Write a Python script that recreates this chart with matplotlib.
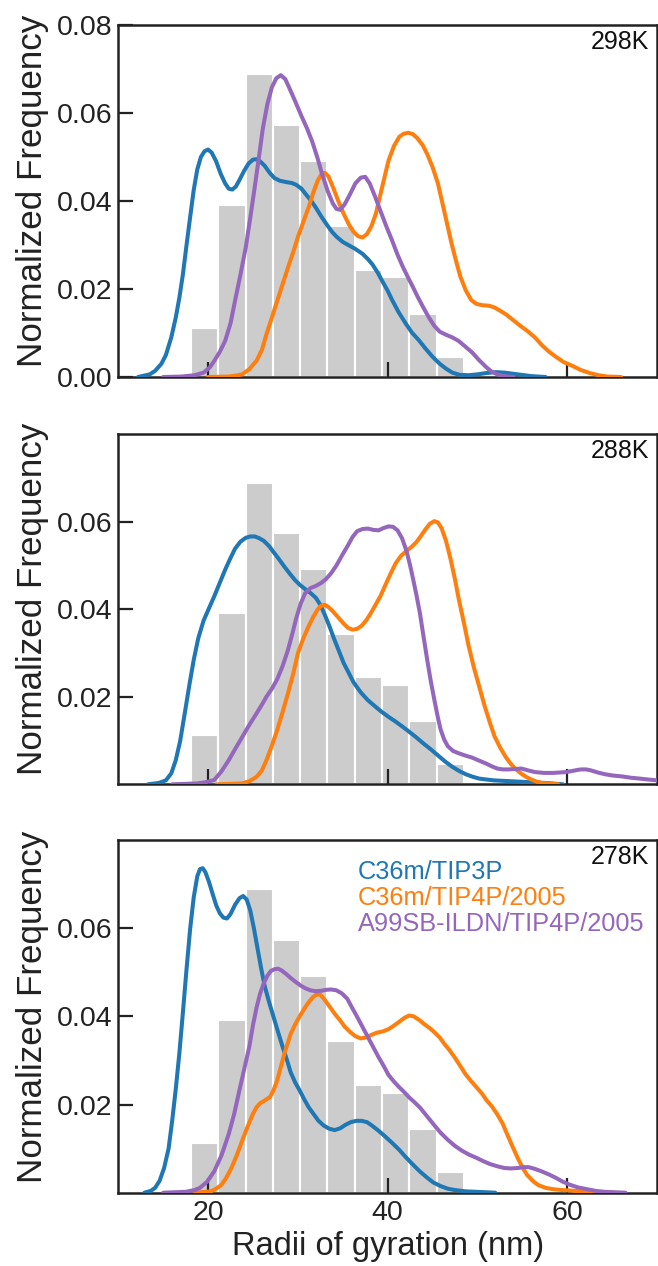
import numpy as np
import matplotlib
matplotlib.use("Agg")
import matplotlib.pyplot as plt

plt.rcParams['font.family'] = ['Liberation Sans', 'DejaVu Sans']

# ---------------------------------------------------------------------------
# Reference histogram of radii of gyration (same in every panel)
bin_edges = np.linspace(18.1, 48.5, 11)
bin_heights = [0.0112, 0.0392, 0.0689, 0.0573, 0.0491,
               0.0343, 0.0244, 0.0227, 0.0144, 0.0046]

temperatures = ["298K", "288K", "278K"]
series_names = ["C36m/TIP3P", "C36m/TIP4P/2005", "A99SB-ILDN/TIP4P/2005"]
series_colors = ["#1f77b4", "#ff7f0e", "#9467bd"]

x_ticks = [20, 40, 60]
x_tick_labels = ["20", "40", "60"]
y_ticks_top = [0.00, 0.02, 0.04, 0.06, 0.08]
y_tick_labels_top = ["0.00", "0.02", "0.04", "0.06", "0.08"]
y_ticks_lower = [0.02, 0.04, 0.06]
y_tick_labels_lower = ["0.02", "0.04", "0.06"]

# ---------------------------------------------------------------------------
# 298 K density curves
tip3p_298_x = [12.2, 13.5, 14.1, 14.8, 15.3, 15.9, 16.4, 16.8, 17.2, 17.6, 18.0,
               18.4, 18.8, 19.2, 19.6, 20.0, 20.4, 20.9, 21.4, 21.9, 22.3, 22.7,
               23.1, 23.5, 24.0, 24.5, 25.0, 25.4, 25.8, 26.3, 26.9, 27.4, 28.0,
               28.7, 29.3, 29.8, 30.4, 30.9, 31.5, 32.0, 32.6, 33.2, 33.8, 34.3,
               35.0, 35.7, 36.4, 37.2, 37.8, 38.3, 38.9, 39.4, 40.0, 40.5, 41.2,
               42.0, 42.7, 43.5, 44.2, 45.0, 45.8, 46.5, 47.2, 48.0, 49.0, 50.0,
               51.0, 52.0, 53.0, 54.5, 56.0, 57.6]
tip3p_298_y = [0, 0.0006, 0.0014, 0.0030, 0.0050, 0.0090, 0.0135, 0.0180, 0.0234,
               0.0300, 0.0363, 0.0425, 0.0472, 0.0500, 0.0513, 0.0517, 0.0510,
               0.0490, 0.0462, 0.0440, 0.0428, 0.0426, 0.0433, 0.0448, 0.0468,
               0.0485, 0.0494, 0.0495, 0.0490, 0.0480, 0.0463, 0.0452, 0.0446,
               0.0443, 0.0441, 0.0437, 0.0428, 0.0415, 0.0400, 0.0385, 0.0365,
               0.0347, 0.0330, 0.0319, 0.0307, 0.0299, 0.0291, 0.0280, 0.0268,
               0.0256, 0.0237, 0.0218, 0.0196, 0.0175, 0.0148, 0.0122, 0.0101,
               0.0083, 0.0065, 0.0046, 0.0030, 0.0019, 0.0010, 0.0005, 0.0004,
               0.0006, 0.0009, 0.0011, 0.0010, 0.0006, 0.0002, 0]

tip4p_298_x = [20.0, 22.3, 23.3, 23.8, 24.6, 25.4, 26.0, 26.5, 27.1, 27.7, 28.3,
               28.9, 29.5, 30.0, 30.6, 31.2, 31.7, 32.2, 32.6, 33.0, 33.4, 33.9,
               34.5, 35.1, 35.7, 36.2, 36.7, 37.2, 37.7, 38.2, 38.7, 39.1, 39.6,
               40.1, 40.7, 41.3, 41.8, 42.3, 42.8, 43.3, 43.9, 44.4, 45.0, 45.6,
               46.1, 46.6, 47.1, 47.6, 48.1, 48.7, 49.3, 49.9, 50.6, 51.3, 51.9,
               52.5, 53.2, 54.0, 54.8, 55.6, 56.4, 57.2, 58.0, 58.8, 59.6, 60.5,
               61.5, 62.5, 63.5, 64.5, 66.0]
tip4p_298_y = [0, 0.0001, 0.0004, 0.0006, 0.0018, 0.0037, 0.0062, 0.0097, 0.0135,
               0.0173, 0.0211, 0.0249, 0.0285, 0.0318, 0.0352, 0.0386, 0.0418,
               0.0446, 0.0460, 0.0464, 0.0456, 0.0432, 0.0400, 0.0371, 0.0346,
               0.0330, 0.0320, 0.0317, 0.0325, 0.0343, 0.0372, 0.0407, 0.0450,
               0.0492, 0.0525, 0.0546, 0.0553, 0.0555, 0.0552, 0.0543, 0.0527,
               0.0507, 0.0477, 0.0440, 0.0395, 0.0350, 0.0305, 0.0265, 0.0228,
               0.0197, 0.0175, 0.0166, 0.0163, 0.0162, 0.0158, 0.0151, 0.0142,
               0.0129, 0.0116, 0.0104, 0.0090, 0.0072, 0.0057, 0.0045, 0.0034,
               0.0026, 0.0016, 0.0009, 0.0004, 0.0001, 0]

ildn_298_x = [15.0, 17.0, 18.5, 19.5, 20.2, 20.7, 21.3, 21.9, 22.5, 23.0, 23.6,
              24.2, 24.7, 25.2, 25.7, 26.1, 26.6, 27.1, 27.6, 28.1, 28.6, 29.2,
              29.8, 30.4, 31.0, 31.6, 32.2, 32.7, 33.3, 33.9, 34.3, 34.7, 35.2,
              35.8, 36.4, 37.0, 37.5, 38.0, 38.6, 39.3, 39.9, 40.5, 41.1, 41.7,
              42.3, 42.8, 43.4, 44.0, 44.6, 45.2, 45.8, 46.5, 47.2, 47.9, 48.6,
              49.4, 50.2, 51.0, 51.6, 52.2, 53.0, 54.0]
ildn_298_y = [0, 0.0001, 0.0004, 0.0010, 0.0022, 0.0037, 0.0057, 0.0082, 0.0122,
              0.0173, 0.0232, 0.0295, 0.0362, 0.0432, 0.0505, 0.0565, 0.0620,
              0.0658, 0.0679, 0.0686, 0.0677, 0.0650, 0.0622, 0.0593, 0.0566,
              0.0535, 0.0497, 0.0461, 0.0424, 0.0394, 0.0382, 0.0380, 0.0392,
              0.0415, 0.0440, 0.0453, 0.0455, 0.0440, 0.0410, 0.0372, 0.0340,
              0.0310, 0.0278, 0.0250, 0.0225, 0.0205, 0.0180, 0.0157, 0.0135,
              0.0116, 0.0103, 0.0096, 0.0090, 0.0082, 0.0070, 0.0056, 0.0038,
              0.0022, 0.0012, 0.0006, 0.0002, 0]

# 288 K density curves
tip3p_288_x = [13.3, 14.5, 15.3, 15.9, 16.4, 16.9, 17.4, 17.9, 18.4, 18.9, 19.5,
               20.1, 20.7, 21.3, 21.9, 22.5, 23.0, 23.6, 24.2, 24.7, 25.2, 25.7,
               26.2, 26.8, 27.3, 27.9, 28.5, 29.1, 29.7, 30.3, 30.8, 31.4, 32.0,
               32.5, 33.0, 33.5, 34.0, 34.6, 35.1, 35.7, 36.2, 37.0, 37.8, 38.6,
               39.3, 40.1, 40.9, 41.7, 42.4, 43.2, 44.0, 44.8, 45.6, 46.4, 47.2,
               48.0, 48.7, 49.5, 50.2, 51.0, 51.8, 53.7, 55.7, 57.6, 59.5]
tip3p_288_y = [0, 0.0003, 0.0009, 0.0025, 0.0055, 0.0100, 0.0162, 0.0225, 0.0284,
               0.0333, 0.0374, 0.0402, 0.0430, 0.0460, 0.0490, 0.0517, 0.0538,
               0.0554, 0.0563, 0.0566, 0.0566, 0.0562, 0.0556, 0.0544, 0.0530,
               0.0514, 0.0497, 0.0481, 0.0466, 0.0454, 0.0446, 0.0437, 0.0426,
               0.0410, 0.0387, 0.0362, 0.0334, 0.0303, 0.0277, 0.0253, 0.0233,
               0.0210, 0.0192, 0.0178, 0.0166, 0.0154, 0.0143, 0.0131, 0.0120,
               0.0107, 0.0093, 0.0080, 0.0066, 0.0052, 0.0040, 0.0030, 0.0023,
               0.0017, 0.0013, 0.0011, 0.0009, 0.0007, 0.0005, 0.0003, 0]

tip4p_288_x = [21.0, 23.8, 24.6, 25.4, 26.0, 26.5, 27.1, 27.7, 28.3, 28.9, 29.5,
               30.0, 30.6, 31.2, 31.7, 32.2, 32.6, 33.0, 33.4, 33.9, 34.5, 35.1,
               35.6, 36.1, 36.6, 37.1, 37.6, 38.1, 38.6, 39.2, 39.7, 40.3, 40.9,
               41.5, 42.1, 42.7, 43.2, 43.7, 44.2, 44.7, 45.2, 45.6, 46.0, 46.5,
               47.0, 47.5, 47.9, 48.5, 49.0, 49.6, 50.2, 50.8, 51.4, 51.9, 52.5,
               53.1, 53.7, 54.3, 54.9, 55.5, 56.0, 56.6, 57.2, 59.0]
tip4p_288_y = [0, 0.0002, 0.0007, 0.0017, 0.0032, 0.0055, 0.0088, 0.0124, 0.0165,
               0.0208, 0.0254, 0.0299, 0.0333, 0.0361, 0.0382, 0.0399, 0.0408,
               0.0410, 0.0405, 0.0395, 0.0381, 0.0367, 0.0357, 0.0353, 0.0355,
               0.0362, 0.0374, 0.0390, 0.0408, 0.0430, 0.0453, 0.0480, 0.0505,
               0.0522, 0.0533, 0.0543, 0.0553, 0.0567, 0.0582, 0.0595, 0.0601,
               0.0598, 0.0585, 0.0556, 0.0515, 0.0468, 0.0425, 0.0368, 0.0318,
               0.0267, 0.0223, 0.0179, 0.0140, 0.0110, 0.0085, 0.0064, 0.0047,
               0.0034, 0.0024, 0.0016, 0.0011, 0.0006, 0.0003, 0]

ildn_288_x = [16.0, 18.8, 19.8, 20.7, 21.5, 22.3, 23.0, 23.8, 24.6, 25.4, 26.0,
              26.5, 27.1, 27.7, 28.3, 28.9, 29.4, 29.8, 30.3, 30.8, 31.4, 32.0,
              32.6, 33.1, 33.7, 34.3, 34.9, 35.5, 36.1, 36.6, 37.2, 37.8, 38.4,
              39.0, 39.5, 40.1, 40.6, 41.1, 41.6, 42.1, 42.5, 42.8, 43.2, 43.6,
              44.0, 44.4, 44.8, 45.2, 45.6, 45.9, 46.3, 46.7, 47.3, 47.9, 48.6,
              49.4, 50.2, 51.0, 51.6, 52.2, 52.8, 53.5, 54.2, 54.9, 55.6, 56.4,
              57.4, 58.4, 59.2, 59.9, 60.7, 61.5, 62.1, 62.6, 63.4, 64.2, 65.1,
              66.1, 67.1, 68.1, 69.0, 70.0]
ildn_288_y = [0, 0.0002, 0.0005, 0.0010, 0.0030, 0.0055, 0.0080, 0.0108, 0.0136,
              0.0162, 0.0182, 0.0200, 0.0218, 0.0240, 0.0270, 0.0307, 0.0345,
              0.0378, 0.0412, 0.0436, 0.0448, 0.0453, 0.0460, 0.0468, 0.0482,
              0.0500, 0.0522, 0.0543, 0.0565, 0.0578, 0.0583, 0.0584, 0.0581,
              0.0580, 0.0585, 0.0589, 0.0588, 0.0580, 0.0562, 0.0533, 0.0500,
              0.0472, 0.0433, 0.0390, 0.0337, 0.0285, 0.0236, 0.0193, 0.0152,
              0.0125, 0.0102, 0.0087, 0.0076, 0.0071, 0.0066, 0.0061, 0.0054,
              0.0047, 0.0041, 0.0036, 0.0034, 0.0034, 0.0035, 0.0036, 0.0032,
              0.0028, 0.0026, 0.0026, 0.0027, 0.0028, 0.0031, 0.0034, 0.0034,
              0.0032, 0.0027, 0.0023, 0.0020, 0.0018, 0.0015, 0.0013, 0.0011,
              0.0009]

# 278 K density curves
tip3p_278_x = [12.9, 13.6, 14.1, 14.6, 15.1, 15.6, 16.0, 16.4, 16.8, 17.2, 17.6,
               18.0, 18.4, 18.8, 19.1, 19.4, 19.7, 20.1, 20.5, 20.9, 21.3, 21.7,
               22.1, 22.5, 23.0, 23.5, 23.9, 24.3, 24.7, 25.1, 25.5, 25.9, 26.3,
               26.8, 27.3, 27.8, 28.3, 28.8, 29.2, 29.7, 30.2, 30.7, 31.2, 31.8,
               32.3, 32.9, 33.5, 34.1, 34.7, 35.3, 35.9, 36.5, 37.1, 37.7, 38.2,
               38.9, 39.7, 40.5, 41.3, 42.0, 42.8, 43.6, 44.4, 45.1, 45.9, 46.7,
               47.5, 48.7, 49.9, 52.0]
tip3p_278_y = [0, 0.0004, 0.0011, 0.0027, 0.0056, 0.0100, 0.0163, 0.0235, 0.0316,
               0.0410, 0.0507, 0.0598, 0.0670, 0.0718, 0.0734, 0.0736, 0.0727,
               0.0705, 0.0678, 0.0652, 0.0634, 0.0624, 0.0622, 0.0632, 0.0653,
               0.0668, 0.0673, 0.0665, 0.0640, 0.0600, 0.0555, 0.0510, 0.0469,
               0.0432, 0.0398, 0.0364, 0.0331, 0.0300, 0.0273, 0.0250, 0.0232,
               0.0212, 0.0194, 0.0177, 0.0163, 0.0152, 0.0145, 0.0142, 0.0146,
               0.0154, 0.0160, 0.0163, 0.0163, 0.0160, 0.0153, 0.0142, 0.0128,
               0.0113, 0.0097, 0.0081, 0.0064, 0.0048, 0.0034, 0.0023, 0.0015,
               0.0009, 0.0006, 0.0003, 0.0002, 0]

tip4p_278_x = [18.5, 20.3, 20.9, 21.5, 22.0, 22.6, 23.2, 23.8, 24.4, 25.0, 25.4,
               25.8, 26.3, 26.9, 27.3, 27.7, 28.1, 28.5, 28.9, 29.2, 29.7, 30.2,
               30.7, 31.2, 31.7, 32.1, 32.5, 32.9, 33.5, 34.1, 34.7, 35.2, 35.8,
               36.4, 37.0, 37.6, 38.2, 38.8, 39.5, 40.1, 40.7, 41.3, 41.9, 42.4,
               42.9, 43.5, 44.1, 44.7, 45.2, 45.8, 46.3, 46.9, 47.5, 48.1, 48.7,
               49.3, 49.9, 50.5, 51.0, 51.6, 52.2, 52.8, 53.3, 53.9, 54.5, 55.0,
               55.5, 56.2, 56.8, 57.6, 58.4, 59.4, 60.3, 61.5, 62.6, 65.0]
tip4p_278_y = [0, 0.0003, 0.0009, 0.0018, 0.0033, 0.0056, 0.0085, 0.0118, 0.0150,
               0.0179, 0.0194, 0.0203, 0.0209, 0.0217, 0.0233, 0.0255, 0.0285,
               0.0316, 0.0341, 0.0360, 0.0382, 0.0400, 0.0417, 0.0432, 0.0444,
               0.0450, 0.0449, 0.0440, 0.0423, 0.0406, 0.0391, 0.0377, 0.0365,
               0.0355, 0.0350, 0.0352, 0.0358, 0.0363, 0.0366, 0.0371, 0.0379,
               0.0388, 0.0397, 0.0402, 0.0400, 0.0392, 0.0382, 0.0373, 0.0364,
               0.0352, 0.0338, 0.0323, 0.0306, 0.0287, 0.0268, 0.0253, 0.0239,
               0.0225, 0.0210, 0.0196, 0.0178, 0.0157, 0.0133, 0.0105, 0.0078,
               0.0058, 0.0041, 0.0026, 0.0017, 0.0011, 0.0008, 0.0006, 0.0005,
               0.0003, 0.0002, 0]

ildn_278_x = [15.0, 17.5, 18.5, 19.1, 19.9, 20.7, 21.5, 22.3, 22.9, 23.4, 24.0,
              24.6, 25.0, 25.4, 25.8, 26.2, 26.6, 27.0, 27.4, 27.8, 28.2, 28.7,
              29.2, 29.7, 30.3, 30.8, 31.4, 32.0, 32.6, 33.1, 33.7, 34.3, 34.9,
              35.5, 36.0, 36.6, 37.2, 37.8, 38.4, 39.0, 39.6, 40.1, 40.7, 41.3,
              41.9, 42.4, 43.0, 43.6, 44.2, 44.8, 45.4, 45.9, 46.7, 47.5, 48.3,
              49.1, 49.9, 50.6, 51.4, 52.2, 53.0, 53.7, 54.5, 55.2, 55.7, 56.4,
              57.2, 58.0, 58.8, 59.5, 60.3, 61.2, 62.2, 63.2, 64.2, 66.5]
ildn_278_y = [0, 0.0002, 0.0006, 0.0011, 0.0025, 0.0049, 0.0085, 0.0133, 0.0178,
              0.0224, 0.0278, 0.0332, 0.0380, 0.0420, 0.0452, 0.0475, 0.0492,
              0.0503, 0.0507, 0.0508, 0.0504, 0.0496, 0.0487, 0.0479, 0.0470,
              0.0464, 0.0459, 0.0457, 0.0458, 0.0460, 0.0461, 0.0459, 0.0452,
              0.0440, 0.0421, 0.0399, 0.0376, 0.0353, 0.0330, 0.0307, 0.0286,
              0.0267, 0.0252, 0.0239, 0.0227, 0.0216, 0.0205, 0.0193, 0.0178,
              0.0163, 0.0148, 0.0136, 0.0120, 0.0106, 0.0095, 0.0086, 0.0079,
              0.0072, 0.0065, 0.0060, 0.0056, 0.0055, 0.0056, 0.0058, 0.0058,
              0.0054, 0.0048, 0.0041, 0.0033, 0.0025, 0.0018, 0.0012, 0.0008,
              0.0004, 0.0002, 0]

panel_curves = [
    [(tip3p_298_x, tip3p_298_y), (tip4p_298_x, tip4p_298_y), (ildn_298_x, ildn_298_y)],
    [(tip3p_288_x, tip3p_288_y), (tip4p_288_x, tip4p_288_y), (ildn_288_x, ildn_288_y)],
    [(tip3p_278_x, tip3p_278_y), (tip4p_278_x, tip4p_278_y), (ildn_278_x, ildn_278_y)],
]

# ---------------------------------------------------------------------------
W, H = 658, 1266
fig = plt.figure(figsize=(W / 100, H / 100), dpi=100)

left_px, right_px = 118.3, 657.0
panel_px = [(25.0, 377.0), (434.0, 784.3), (840.0, 1192.7)]
spine_color = "#222222"

axes = []
for top_px, bot_px in panel_px:
    ax = fig.add_axes([left_px / W, 1 - bot_px / H,
                       (right_px - left_px) / W, (bot_px - top_px) / H])
    axes.append(ax)

for i, ax in enumerate(axes):
    ax.bar(bin_edges[:-1], bin_heights, width=np.diff(bin_edges), align="edge",
           color="#cccccc", edgecolor="white", linewidth=1.5, zorder=1)
    for (cx, cy), color in zip(panel_curves[i], series_colors):
        ax.plot(cx, cy, color=color, lw=2.9, solid_joinstyle="round",
                solid_capstyle="round", zorder=3)

    ax.set_xlim(10, 70)
    ax.set_ylim(0, 0.08)
    ax.set_xticks(x_ticks)
    if i == 0:
        ax.set_yticks(y_ticks_top)
        ax.set_yticklabels(y_tick_labels_top)
    else:
        ax.set_yticks(y_ticks_lower)
        ax.set_yticklabels(y_tick_labels_lower)
    if i == 2:
        ax.set_xticklabels(x_tick_labels)
        ax.set_xlabel("Radii of gyration (nm)", fontsize=23.5, color="#222222",
                      labelpad=4)
    else:
        ax.set_xticklabels([])

    ax.tick_params(axis="both", direction="in", length=11, width=1.6,
                   color=spine_color, labelsize=20.5, labelcolor="#222222",
                   top=False, right=False)
    ax.tick_params(axis="y", pad=4.5)
    ax.tick_params(axis="x", pad=5)
    for sp in ax.spines.values():
        sp.set_linewidth(1.8)
        sp.set_color(spine_color)

    ax.set_ylabel("Normalized Frequency", fontsize=25.2, color="#222222")
    ax.yaxis.set_label_coords(-0.128, 0.528)

    ax.text(0.986, 0.931, temperatures[i], transform=ax.transAxes,
            ha="right", va="baseline", fontsize=18, color="#111111")

# Legend as coloured text in the lowest panel
legend_y = [0.8886, 0.8157, 0.7428]
for name, color, yy in zip(series_names, series_colors, legend_y):
    axes[2].text(0.4453, yy, name, transform=axes[2].transAxes, ha="left",
                 va="baseline", fontsize=18.3, color=color)

fig.savefig("out.png", dpi=100)
